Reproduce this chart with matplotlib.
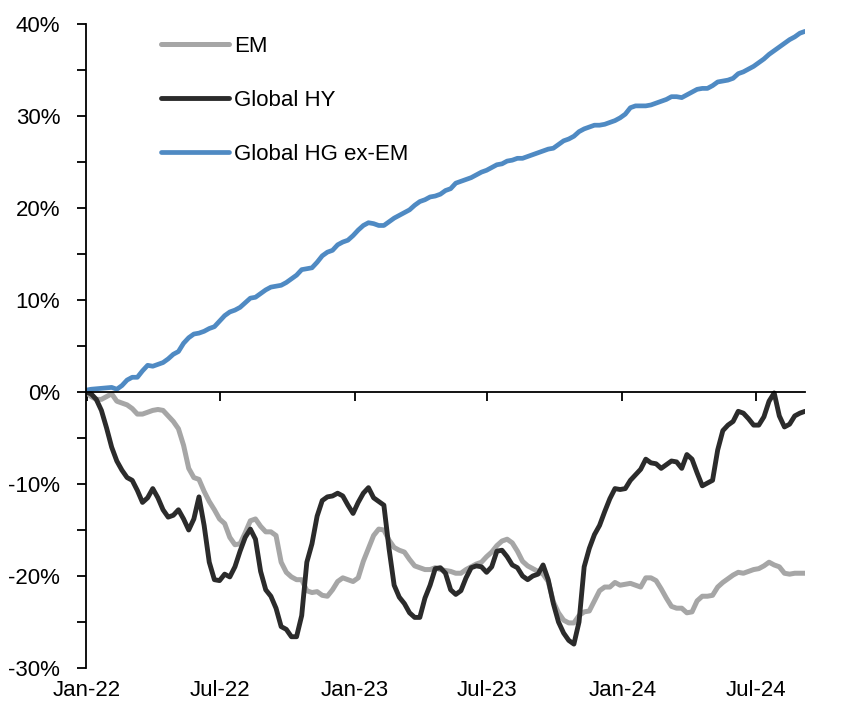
import numpy as np
import pandas as pd
import matplotlib
matplotlib.use("Agg")
import matplotlib.pyplot as plt
import matplotlib.dates as mdates
from matplotlib.ticker import FuncFormatter, MultipleLocator

plt.rcParams['font.family'] = ['Liberation Sans', 'DejaVu Sans']

# weekly observations, cumulative return in %
dates = pd.date_range('2021-12-31', periods=141, freq='7D')

em = [0, -0.5, -0.8, -0.8, -0.5, -0.2, -1.0, -1.2, -1.4, -1.8,
      -2.4, -2.4, -2.2, -2.0, -1.9, -2.0, -2.6, -3.2, -4.0, -5.8,
      -8.3, -9.3, -9.5, -10.8, -11.9, -12.8, -13.8, -14.3, -15.8, -16.6,
      -16.5, -15.3, -14.0, -13.8, -14.6, -15.2, -15.2, -15.6, -18.5, -19.6,
      -20.1, -20.4, -20.4, -21.6, -21.8, -21.7, -22.1, -22.2, -21.5, -20.6,
      -20.2, -20.4, -20.6, -20.2, -18.4, -17.0, -15.6, -14.9, -15.0, -16.1,
      -16.9, -17.2, -17.4, -18.2, -18.9, -19.1, -19.3, -19.3, -19.1, -19.3,
      -19.4, -19.5, -19.7, -19.7, -19.3, -19.0, -18.7, -18.5, -17.9, -17.4,
      -16.7, -16.2, -16.0, -16.4, -17.3, -18.4, -18.9, -19.2, -19.5, -19.8,
      -20.6, -22.8, -24.0, -24.8, -25.1, -25.1, -24.3, -23.9, -23.8, -22.7,
      -21.6, -21.2, -21.2, -20.7, -21.0, -20.9, -20.8, -21.0, -21.2, -20.2,
      -20.2, -20.5, -21.4, -22.4, -23.3, -23.5, -23.5, -24.0, -23.9, -22.7,
      -22.2, -22.2, -22.1, -21.2, -20.7, -20.3, -19.9, -19.6, -19.7, -19.5,
      -19.3, -19.2, -18.9, -18.5, -18.8, -19.0, -19.7, -19.8, -19.7, -19.7, -19.7]

global_hy = [0, -0.2, -0.8, -2.0, -3.9, -6.0, -7.5, -8.5, -9.3, -9.6,
             -10.7, -12.0, -11.5, -10.5, -11.5, -12.8, -13.6, -13.4, -12.8, -13.8,
             -15.0, -13.8, -11.4, -14.5, -18.5, -20.4, -20.5, -19.8, -20.1, -19.0,
             -17.3, -15.8, -14.9, -16.0, -19.5, -21.5, -22.2, -23.5, -25.5, -25.8,
             -26.6, -26.6, -24.3, -18.5, -16.5, -13.5, -11.8, -11.4, -11.3, -11.0,
             -11.3, -12.3, -13.2, -12.0, -11.0, -10.4, -11.5, -11.9, -12.3, -17.0,
             -21.0, -22.3, -23.0, -24.0, -24.5, -24.5, -22.4, -21.0, -19.2, -19.1,
             -19.7, -21.5, -22.0, -21.6, -20.2, -19.1, -18.9, -19.0, -19.6, -19.0,
             -17.3, -17.2, -17.9, -18.8, -19.1, -20.0, -20.4, -20.0, -19.8, -18.8,
             -20.4, -23.0, -25.0, -26.2, -27.0, -27.4, -25.0, -19.0, -17.0, -15.5,
             -14.5, -13.0, -11.6, -10.5, -10.6, -10.5, -9.6, -9.0, -8.4, -7.3,
             -7.7, -7.8, -8.3, -7.9, -7.5, -7.6, -8.3, -6.8, -7.3, -8.8,
             -10.2, -9.9, -9.6, -6.3, -4.2, -3.6, -3.2, -2.1, -2.3, -2.9,
             -3.6, -3.6, -2.7, -1.0, -0.1, -2.6, -3.8, -3.5, -2.6, -2.3, -2.1]

global_hg = [0.2, 0.3, 0.35, 0.4, 0.45, 0.5, 0.3, 0.7, 1.3, 1.6,
             1.6, 2.3, 2.9, 2.8, 3.0, 3.2, 3.6, 4.1, 4.4, 5.3,
             5.9, 6.3, 6.4, 6.6, 6.9, 7.1, 7.7, 8.3, 8.7, 8.9,
             9.2, 9.7, 10.2, 10.3, 10.7, 11.1, 11.4, 11.5, 11.6, 11.9,
             12.3, 12.7, 13.3, 13.4, 13.5, 14.1, 14.8, 15.2, 15.4, 16.0,
             16.3, 16.5, 17.0, 17.6, 18.1, 18.4, 18.3, 18.1, 18.1, 18.5,
             18.9, 19.2, 19.5, 19.8, 20.3, 20.7, 20.9, 21.2, 21.3, 21.5,
             21.9, 22.1, 22.7, 22.9, 23.1, 23.3, 23.6, 23.9, 24.1, 24.4,
             24.7, 24.8, 25.1, 25.2, 25.4, 25.4, 25.6, 25.8, 26.0, 26.2,
             26.4, 26.5, 26.9, 27.3, 27.5, 27.8, 28.3, 28.6, 28.8, 29.0,
             29.0, 29.1, 29.3, 29.5, 29.8, 30.2, 30.9, 31.1, 31.1, 31.1,
             31.2, 31.4, 31.6, 31.8, 32.1, 32.1, 32.0, 32.3, 32.6, 32.9,
             33.0, 33.0, 33.3, 33.7, 33.8, 33.9, 34.1, 34.6, 34.8, 35.1,
             35.4, 35.8, 36.2, 36.7, 37.1, 37.5, 37.9, 38.3, 38.6, 39.0, 39.2]

xticks = pd.to_datetime(['2022-01-01', '2022-07-01', '2023-01-01',
                         '2023-07-01', '2024-01-01', '2024-07-01'])

fig = plt.figure(figsize=(8.52, 7.11), dpi=100)
ax = fig.add_axes([86/852, 1 - 668/711, 719/852, 644/711])

ax.plot(dates, em, color='#a6a6a6', lw=3.6, label='EM', solid_capstyle='round')
ax.plot(dates, global_hy, color='#2b2b2b', lw=3.5, label='Global HY', solid_capstyle='round')
ax.plot(dates, global_hg, color='#4f8ac3', lw=3.4, label='Global HG ex-EM', solid_capstyle='round')

ax.set_ylim(-30, 40)
ax.set_xlim(dates[0], dates[-1])

# axe y
ax.yaxis.set_major_locator(MultipleLocator(10))
ax.yaxis.set_minor_locator(MultipleLocator(5))
ax.yaxis.set_major_formatter(FuncFormatter(lambda v, p: f'{v:.0f}%'))
ax.tick_params(axis='y', which='both', direction='out', length=6.5, width=1.3,
               labelsize=16, pad=12)

for s in ['top', 'right']:
    ax.spines[s].set_visible(False)
ax.spines['left'].set_linewidth(1.3)
ax.spines['bottom'].set_position(('data', 0))
ax.spines['bottom'].set_linewidth(1.3)

# axe x : ligne a 0 avec les ticks, etiquettes en bas
ax.set_xticks(xticks)
ax.tick_params(axis='x', direction='out', length=6.5, width=1.3, labelbottom=False)

sec = ax.secondary_xaxis('bottom')
sec.set_xticks(xticks)
sec.xaxis.set_major_formatter(mdates.DateFormatter('%b-%y'))
sec.tick_params(axis='x', length=0, labelsize=16, pad=9)
sec.spines['bottom'].set_visible(False)

ax.legend(loc='upper left', bbox_to_anchor=(0.104, 0.982), frameon=False,
          fontsize=16, handlelength=3.05, handletextpad=0.25, labelspacing=1.5,
          borderaxespad=0, borderpad=0)

fig.savefig('out.png', dpi=100)
